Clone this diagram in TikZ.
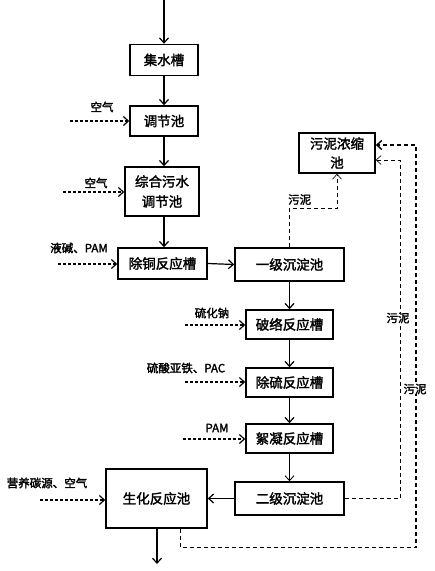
\documentclass[tikz,border=0pt]{standalone}
\usepackage{fontspec}
\setmainfont{Noto Sans CJK SC}
\newfontfamily\heavycjk{Noto Sans CJK SC}[FakeBold=2]
\usetikzlibrary{arrows.meta}

\begin{document}
\begin{tikzpicture}[x=1pt, y=-1pt,
    box/.style={draw, line width=1.5pt, align=center, font=\fontsize{13.5}{20}\selectfont\heavycjk, inner sep=0pt},
    flow/.style={line width=1.2pt, -{Straight Barb[length=5pt,width=9pt]}},
    feed/.style={line width=1.2pt, dash pattern=on 3pt off 2pt, -{Straight Barb[length=5pt,width=9pt]}},
    thinsludge/.style={line width=0.6pt, dash pattern=on 4pt off 3pt, -{Straight Barb[length=5pt,width=9pt]}},
    sludge/.style={line width=1.4pt, dash pattern=on 4pt off 3pt, -{Straight Barb[length=5pt,width=9pt]}},
    lbl/.style={font=\fontsize{11.5}{13}\selectfont\heavycjk, inner sep=0pt}]
  \useasboundingbox (0,0) rectangle (435,571);
  % Boxes
  \node[box, minimum width=68pt, minimum height=31pt] (jishui) at (164,60) {集水槽};
  \node[box, minimum width=68pt, minimum height=30pt] (tiaojie) at (164,121) {调节池};
  \node[box, minimum width=74pt, minimum height=49pt] (zonghe) at (162,191.5) {综合污水\\调节池};
  \node[box, minimum width=89pt, minimum height=31pt] (chutong) at (162.5,263.5) {除铜反应槽};
  \node[box, minimum width=109pt, minimum height=33pt] (yiji) at (289.5,264.5) {一级沉淀池};
  \node[box, minimum width=76pt, minimum height=40pt, font=\fontsize{13.5}{19}\selectfont\heavycjk] (nongsuo) at (337,153) {污泥浓缩\\池};
  \node[box, minimum width=87pt, minimum height=29pt] (poluo) at (289.5,324.5) {破络反应槽};
  \node[box, minimum width=87pt, minimum height=29pt] (chuliu) at (289.5,382.5) {除硫反应槽};
  \node[box, minimum width=87pt, minimum height=29pt] (xuning) at (289.5,438.5) {絮凝反应槽};
  \node[box, minimum width=109pt, minimum height=33pt] (erji) at (289.5,498.5) {二级沉淀池};
  \node[box, minimum width=101pt, minimum height=59pt] (shenghua) at (156.5,498.5) {生化反应池};
  % Free ends
  \coordinate (in) at (164,0);
  \coordinate (out) at (157,564);
  \coordinate (f1) at (70,121);
  \coordinate (f2) at (63,192);
  \coordinate (f3) at (58,264);
  \coordinate (f4) at (185,325);
  \coordinate (f5) at (185,382);
  \coordinate (f6) at (183,439);
  \coordinate (f7) at (40,500);
  % Main flow
  \draw[flow] (in) -- (jishui.north);
  \draw[flow] (jishui.south) -- (tiaojie.north);
  \draw[flow] (tiaojie.south) -- (zonghe.north -| tiaojie.south);
  \draw[flow] (zonghe.south -| tiaojie.south) -- (chutong.north -| tiaojie.south);
  \draw[flow] (chutong.east) -- (yiji.west);
  \draw[flow] (yiji.south) -- (poluo.north);
  \draw[flow] (poluo.south) -- (chuliu.north);
  \draw[flow] (chuliu.south) -- (xuning.north);
  \draw[flow, line width=0.8pt] (xuning.south) -- (erji.north);
  \draw[flow] (erji.west) -- (shenghua.east);
  \draw[flow] (shenghua.south -| out) -- (out);
  % Dosing
  \draw[feed] (f1) -- (tiaojie.west |- f1);
  \draw[feed] (f2) -- (zonghe.west |- f2);
  \draw[feed] (f3) -- (chutong.west |- f3);
  \draw[feed] (f4) -- (poluo.west |- f4);
  \draw[feed] (f5) -- (chuliu.west |- f5);
  \draw[feed] (f6) -- (xuning.west |- f6);
  \draw[feed] (f7) -- (shenghua.west |- f7);
  \node[lbl] (l1) at (102,107) {空气};
  \node[lbl] (l2) at (96,183) {空气};
  \node[lbl] (l3) at (79,248) {液碱、PAM};
  \node[lbl] (l4) at (212,313) {硫化钠};
  \node[lbl] (l5) at (186,368) {硫酸亚铁、PAC};
  \node[lbl] (l6) at (217,428) {PAM};
  \node[lbl] (l7) at (47,483) {营养碳源、空气};
  % Sludge
  \draw[thinsludge] (yiji.north) -- ++(0,-39) -| (nongsuo.south);
  \draw[thinsludge] (erji.east) -| (400,160) -- ([yshift=-7pt]nongsuo.east);
  \draw[sludge] ([xshift=24pt]shenghua.south) -- ++(0,19) -| (416,145) -- ([yshift=8pt]nongsuo.east);
  \node[lbl, anchor=south west] (s1) at (288,205) {污泥};
  \node[lbl, fill=white] (s2) at (398,318) {污泥};
  \node[lbl, fill=white] (s3) at (415,389) {污泥};
\end{tikzpicture}
\end{document}
